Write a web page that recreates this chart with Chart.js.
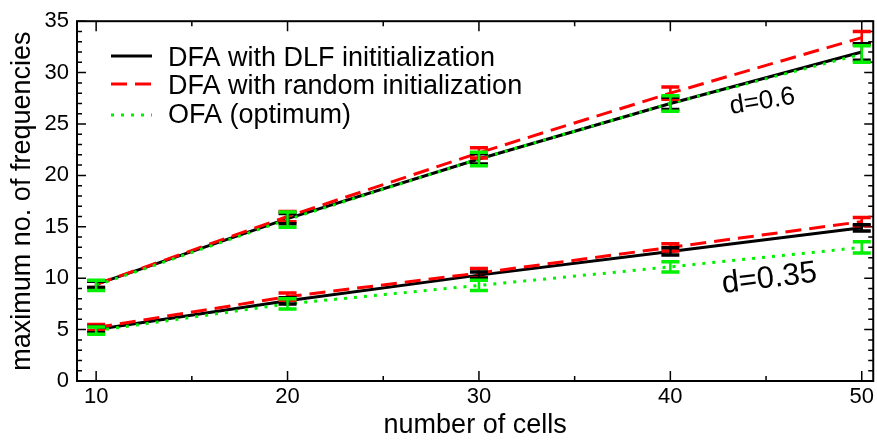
<!DOCTYPE html>
<html>
<head>
<meta charset="utf-8">
<script src="https://cdn.jsdelivr.net/npm/chart.js@4.4.0/dist/chart.umd.min.js"></script>
<style>
    html, body { margin: 0; padding: 0; background: #fff; }
    #wrap { width: 877px; height: 440px; }
</style>
</head>
<body>
<div id="wrap"><canvas id="mainChart"></canvas></div>
<script>
// x values and tick labels
var cells = [10, 20, 30, 40, 50]
var xTicks = [10, 20, 30, 40, 50]
var yTicks = [0, 5, 10, 15, 20, 25, 30, 35]

// d = 0.6 group
var dlfHigh = [9.4, 15.8, 21.6, 27.0, 32.0]
var dlfHighErr = [0.3, 0.5, 0.5, 0.6, 0.8]
var rndHigh = [9.4, 16.0, 22.2, 28.0, 33.4]
var rndHighErr = [0.3, 0.5, 0.5, 0.6, 0.6]
var ofaHigh = [9.3, 15.7, 21.6, 27.0, 31.8]
var ofaHighErr = [0.5, 0.75, 0.65, 0.75, 0.8]

// d = 0.35 group
var dlfLow = [5.0, 7.8, 10.3, 12.6, 14.9]
var dlfLowErr = [0.3, 0.3, 0.3, 0.35, 0.3]
var rndLow = [5.2, 8.2, 10.5, 13.0, 15.5]
var rndLowErr = [0.3, 0.35, 0.45, 0.35, 0.4]
var ofaLow = [4.9, 7.5, 9.3, 11.1, 13.0]
var ofaLowErr = [0.35, 0.5, 0.5, 0.5, 0.55]

var seriesNames = ["DFA with DLF inititialization", "DFA with random initialization", "OFA (optimum)"]
var groupNames = ["d=0.6", "d=0.35"]

var FONT = "'Liberation Sans', Arial, sans-serif"

function pts(vals) {
    return cells.map(function (c, i) { return { x: c, y: vals[i] } })
}

// one style per series: black solid, red dashed, green dotted
var styles = [
    { color: '#000000', dash: [], order: 3 },
    { color: '#ff0000', dash: [16, 8], order: 2 },
    { color: '#00f000', dash: [3, 7], order: 1 }
]

function makeSet(name, vals, errs, s) {
    return {
        label: name,
        data: pts(vals),
        err: errs,
        borderColor: s.color,
        backgroundColor: s.color,
        borderDash: s.dash,
        borderWidth: 3,
        pointRadius: 0,
        tension: 0,
        fill: false,
        order: s.order
    }
}

var datasets = [
    makeSet(seriesNames[0], dlfHigh, dlfHighErr, styles[0]),
    makeSet(seriesNames[1], rndHigh, rndHighErr, styles[1]),
    makeSet(seriesNames[2], ofaHigh, ofaHighErr, styles[2]),
    makeSet(seriesNames[0], dlfLow, dlfLowErr, styles[0]),
    makeSet(seriesNames[1], rndLow, rndLowErr, styles[1]),
    makeSet(seriesNames[2], ofaLow, ofaLowErr, styles[2])
]

// frame with inward ticks on all four sides
var framePlugin = {
    id: 'framePlugin',
    beforeDatasetsDraw: function (chart) {
        var ctx = chart.ctx, a = chart.chartArea
        var xs = chart.scales.x, ys = chart.scales.y
        ctx.save()
        ctx.strokeStyle = '#000'
        ctx.lineWidth = 1.5
        ctx.beginPath()
        for (var v = 15; v <= 50; v += 10) {
            var px = xs.getPixelForValue(v)
            ctx.moveTo(px, a.bottom); ctx.lineTo(px, a.bottom - 5)
            ctx.moveTo(px, a.top); ctx.lineTo(px, a.top + 5)
        }
        xTicks.forEach(function (v) {
            var px = xs.getPixelForValue(v)
            ctx.moveTo(px, a.bottom); ctx.lineTo(px, a.bottom - 10)
            ctx.moveTo(px, a.top); ctx.lineTo(px, a.top + 10)
        })
        for (var w = 0; w <= 35; w++) {
            var py = ys.getPixelForValue(w)
            var len = (w % 5 === 0) ? 9 : 5
            ctx.moveTo(a.left, py); ctx.lineTo(a.left + len, py)
            ctx.moveTo(a.right, py); ctx.lineTo(a.right - len, py)
        }
        ctx.stroke()
        ctx.lineWidth = 2
        ctx.strokeRect(a.left, a.top, a.right - a.left, a.bottom - a.top)
        ctx.restore()
    }
}

// vertical error bars with caps
var errorBars = {
    id: 'errorBars',
    afterDatasetsDraw: function (chart) {
        var ctx = chart.ctx, ys = chart.scales.y
        var drawOrder = [1, 4, 0, 3, 2, 5]
        ctx.save()
        ctx.setLineDash([])
        drawOrder.forEach(function (i) {
            var ds = chart.data.datasets[i]
            var meta = chart.getDatasetMeta(i)
            ctx.strokeStyle = ds.borderColor
            meta.data.forEach(function (pt, j) {
                var y = ds.data[j].y, e = ds.err[j]
                var top = ys.getPixelForValue(y + e)
                var bot = ys.getPixelForValue(y - e)
                ctx.lineWidth = 2.5
                ctx.beginPath()
                ctx.moveTo(pt.x, top); ctx.lineTo(pt.x, bot)
                ctx.stroke()
                ctx.lineWidth = 3.5
                ctx.beginPath()
                ctx.moveTo(pt.x - 9, top); ctx.lineTo(pt.x + 9, top)
                ctx.moveTo(pt.x - 9, bot); ctx.lineTo(pt.x + 9, bot)
                ctx.stroke()
            })
        })
        ctx.restore()
    }
}

// legend inside the plot and the d labels
var legendAndNotes = {
    id: 'legendAndNotes',
    afterDraw: function (chart) {
        var ctx = chart.ctx
        var rows = [56, 84, 115]
        var bases = [66, 94, 123]
        ctx.save()
        for (var i = 0; i < 3; i++) {
            ctx.strokeStyle = styles[i].color
            ctx.lineWidth = 3
            ctx.setLineDash(styles[i].dash)
            ctx.beginPath()
            ctx.moveTo(111, rows[i]); ctx.lineTo(152, rows[i])
            ctx.stroke()
            ctx.setLineDash([])
            ctx.fillStyle = '#000'
            ctx.font = '27px ' + FONT
            ctx.textBaseline = 'alphabetic'
            ctx.fillText(seriesNames[i], 168, bases[i])
        }

        ctx.fillStyle = '#000'
        ctx.save()
        ctx.translate(731, 114)
        ctx.rotate(-0.16)
        ctx.font = '26px ' + FONT
        ctx.fillText(groupNames[0], 0, 0)
        ctx.restore()

        ctx.save()
        ctx.translate(723, 293)
        ctx.rotate(-0.12)
        ctx.font = '31px ' + FONT
        ctx.fillText(groupNames[1], 0, 0)
        ctx.restore()
        ctx.restore()
    }
}

var ctx = document.getElementById('mainChart').getContext('2d')
var mainChart = new Chart(ctx, {
    type: 'line',
    data: { datasets: datasets },
    plugins: [framePlugin, errorBars, legendAndNotes],
    options: {
        responsive: true,
        maintainAspectRatio: false,
        animation: false,
        layout: { padding: { top: 17, right: 1, left: 0, bottom: 0 } },
        plugins: {
            legend: { display: false },
            tooltip: { enabled: false }
        },
        scales: {
            x: {
                type: 'linear',
                min: 9,
                max: 50.6,
                afterBuildTicks: function (scale) {
                    scale.ticks = xTicks.map(function (v) { return { value: v } })
                },
                afterFit: function (scale) { scale.height = 59 },
                grid: { display: false, drawTicks: false },
                border: { display: false },
                ticks: {
                    color: '#000',
                    padding: 3,
                    maxRotation: 0,
                    font: { family: FONT, size: 22 }
                },
                title: {
                    display: true,
                    text: 'number of cells',
                    color: '#000',
                    padding: { top: 0, bottom: -2 },
                    font: { family: FONT, size: 27 }
                }
            },
            y: {
                type: 'linear',
                min: 0,
                max: 35,
                afterBuildTicks: function (scale) {
                    scale.ticks = yTicks.map(function (v) { return { value: v } })
                },
                afterFit: function (scale) { scale.width = 77 },
                grid: { display: false, drawTicks: false },
                border: { display: false },
                ticks: {
                    color: '#000',
                    padding: 8,
                    font: { family: FONT, size: 22 }
                },
                title: {
                    display: true,
                    text: 'maximum no. of frequencies',
                    color: '#000',
                    padding: { top: 6, bottom: 0 },
                    font: { family: FONT, size: 27 }
                }
            }
        }
    }
})
</script>
</body>
</html>
